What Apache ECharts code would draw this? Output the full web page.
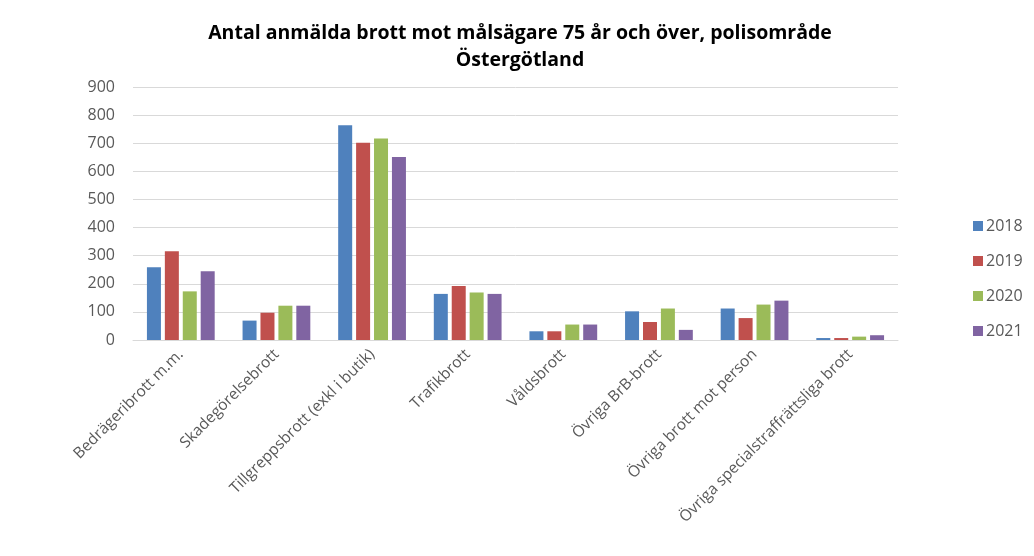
<!DOCTYPE html>
<html>
<head>
<meta charset="utf-8">
<script src="https://cdn.jsdelivr.net/npm/echarts@6/dist/echarts.min.js"></script>
<style>
  html, body { margin: 0; padding: 0; background: #ffffff; }
  #chart { width: 1034px; height: 556px; }
</style>
</head>
<body>
<div id="chart"></div>
<script>
const categories = [
  "Bedrägeribrott m.m.",
  "Skadegörelsebrott",
  "Tillgreppsbrott (exkl i butik)",
  "Trafikbrott",
  "Våldsbrott",
  "Övriga BrB-brott",
  "Övriga brott mot person",
  "Övriga specialstraffrättsliga brott"
];
const years = ["2018", "2019", "2020", "2021"];
const v2018 = [259, 69, 764, 164, 31, 102, 112, 7];
const v2019 = [316, 97, 702, 192, 31, 64, 78, 7];
const v2020 = [173, 122, 717, 169, 55, 112, 126, 12];
const v2021 = [245, 122, 651, 164, 55, 36, 140, 17];
const yTicks = [0, 100, 200, 300, 400, 500, 600, 700, 800, 900];

const colors = ["#4F81BD", "#C0504D", "#9BBB59", "#8064A2"];
const font = "Open Sans, Liberation Sans, sans-serif";

var chart = echarts.init(document.getElementById("chart"));
var seriesData = [v2018, v2019, v2020, v2021];

chart.setOption({
  animation: false,
  color: colors,
  title: {
    text: "Antal anmälda brott mot målsägare 75 år och över, polisområde\nÖstergötland",
    left: 515,
    top: 15,
    textAlign: "center",
    textStyle: {
      fontFamily: font,
      fontSize: 19.5,
      fontWeight: "bold",
      color: "#000000",
      lineHeight: 27
    }
  },
  legend: {
    orient: "vertical",
    left: 968,
    top: 213,
    itemWidth: 10,
    itemHeight: 10,
    itemGap: 19,
    icon: "rect",
    data: years,
    textStyle: { fontFamily: font, fontSize: 16, color: "#595959", padding: [0, 0, 0, -2] }
  },
  grid: {
    left: 133,
    right: 136,
    top: 87,
    bottom: 216
  },
  xAxis: {
    type: "category",
    data: categories,
    axisLine: { lineStyle: { color: "#d9d9d9" } },
    axisTick: { show: false },
    axisLabel: {
      interval: 0,
      rotate: 45,
      fontFamily: font,
      fontSize: 15.5,
      color: "#595959",
      margin: 12
    }
  },
  yAxis: {
    type: "value",
    min: yTicks[0],
    max: yTicks[yTicks.length - 1],
    interval: 100,
    axisLine: { show: false },
    axisTick: { show: false },
    splitLine: { lineStyle: { color: "#d9d9d9" } },
    axisLabel: {
      fontFamily: font,
      fontSize: 16,
      color: "#595959",
      margin: 18
    }
  },
  series: years.map(function (y, i) {
    return {
      name: y,
      type: "bar",
      data: seriesData[i],
      barWidth: 14,
      barGap: "28%"
    };
  })
});
</script>
</body>
</html>
